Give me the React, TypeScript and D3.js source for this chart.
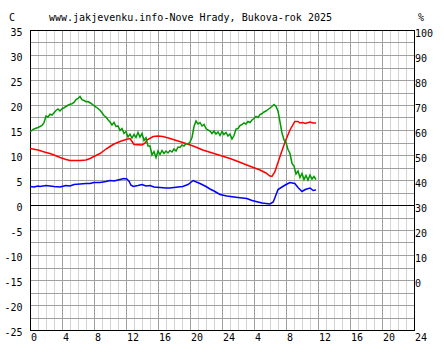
import React from "react";
import * as d3 from "d3";

const TITLE = "www.jakjevenku.info-Nove Hrady, Bukova-rok 2025";
const LEFT_TICKS = [35, 30, 25, 20, 15, 10, 5, 0, -5, -10, -15, -20, -25];
const RIGHT_TICKS = [100, 90, 80, 70, 60, 50, 40, 30, 20, 10, 0];
const X_TICK_LABELS = ["0", "4", "8", "12", "16", "20", "24", "4", "8", "12", "16", "20", "24"];

// Green series (humidity, %, right axis)
const greenHours = [0, 0.5, 1, 1.5, 1.75, 2, 2.25, 2.5, 2.75, 3, 3.25, 3.5, 3.75, 4, 4.25, 4.5, 4.75, 5, 5.25, 5.5, 5.75, 6, 6.25, 6.5, 6.75, 7, 7.25, 7.5, 7.75, 8, 8.25, 8.5, 8.75, 9, 9.25, 9.5, 9.75, 10, 10.25, 10.5, 10.75, 11, 11.25, 11.5, 11.75, 12, 12.25, 12.5, 12.75, 13, 13.25, 13.5, 13.75, 14, 14.25, 14.5, 14.75, 15, 15.25, 15.5, 15.75, 16, 16.25, 16.5, 16.75, 17, 17.25, 17.5, 17.75, 18, 18.25, 18.5, 18.75, 19, 19.25, 19.5, 19.75, 20, 20.25, 20.5, 20.75, 21, 21.25, 21.5, 21.75, 22, 22.25, 22.5, 22.75, 23, 23.25, 23.5, 23.75, 24, 24.25, 24.5, 24.75, 25, 25.25, 25.5, 25.75, 26, 26.25, 26.5, 26.75, 27, 27.25, 27.5, 27.75, 28, 28.25, 28.5, 28.75, 29, 29.25, 29.5, 29.75, 30, 30.25, 30.5, 30.75, 31, 31.25, 31.5, 31.75, 32, 32.25, 32.5, 32.75, 33, 33.25, 33.5, 33.75, 34, 34.25, 34.5, 34.75, 35, 35.25, 35.5, 35.75];
const greenValues = [59.3, 60.4, 61.0, 61.8, 62.9, 65.6, 65.2, 66.3, 66.0, 66.9, 67.8, 68.4, 67.6, 68.5, 68.9, 69.4, 69.9, 70.3, 70.5, 71.0, 72.2, 72.6, 73.4, 72.1, 71.8, 71.3, 71.4, 70.9, 70.4, 69.7, 69.2, 68.6, 67.9, 66.9, 65.8, 65.2, 64.1, 63.2, 62.0, 63.0, 61.4, 61.6, 59.8, 60.6, 58.6, 59.4, 57.2, 58.3, 56.8, 58.2, 57.0, 59.0, 57.2, 58.6, 55.8, 56.9, 53.6, 53.6, 50.0, 51.4, 49.0, 51.6, 50.2, 51.8, 50.6, 51.6, 50.8, 51.8, 51.2, 52.4, 51.6, 53.2, 53.0, 54.0, 53.6, 54.6, 54.4, 55.2, 57.0, 61.4, 63.6, 62.4, 63.0, 61.6, 62.2, 60.6, 60.0, 59.6, 58.6, 59.6, 58.4, 59.2, 57.8, 59.4, 58.2, 59.0, 57.6, 58.4, 56.4, 57.8, 60.4, 60.6, 61.8, 62.2, 62.8, 62.4, 63.4, 63.0, 64.0, 64.6, 65.4, 65.0, 66.2, 66.6, 67.2, 67.6, 68.2, 68.8, 69.4, 70.2, 69.4, 67.6, 63.2, 58.8, 56.0, 55.0, 52.2, 50.6, 46.6, 45.6, 42.4, 43.6, 41.0, 42.6, 40.2, 41.8, 40.0, 42.0, 40.4, 41.4, 40.2];

// Red series (°C, left axis)
const redHours = [0, 1, 2, 2.5, 3, 3.75, 4.5, 5, 6.25, 7, 7.5, 8, 8.75, 9.5, 10, 10.5, 11.25, 12, 12.5, 12.8, 13, 14, 14.4, 14.6, 15.4, 16, 16.6, 17.3, 17.9, 19.1, 20.4, 21.6, 23.4, 25, 26, 27.1, 28.75, 29.5, 30, 30.25, 30.6, 31.25, 31.9, 32.5, 33.1, 33.5, 33.75, 34.1, 34.4, 35, 35.4, 35.75];
const redValues = [11.3, 11.0, 10.5, 10.3, 10.0, 9.5, 9.1, 8.9, 8.9, 9.0, 9.3, 9.7, 10.3, 11.2, 11.7, 12.2, 12.7, 13.1, 13.3, 12.6, 12.1, 12.0, 12.4, 13.0, 13.7, 13.8, 13.7, 13.4, 13.1, 12.5, 11.8, 11.0, 10.1, 9.3, 8.7, 8.0, 7.0, 6.4, 5.8, 5.7, 6.6, 9.7, 12.7, 15.0, 16.7, 16.7, 16.4, 16.5, 16.3, 16.6, 16.4, 16.4];

// Blue series (°C, left axis)
const blueHours = [0, 0.5, 1, 1.25, 2, 2.5, 3, 3.75, 4.5, 5, 5.5, 6.25, 7, 7.5, 8, 8.75, 9.5, 10, 10.5, 11.25, 11.75, 12.1, 12.4, 12.6, 12.9, 13.5, 14, 14.5, 15, 15.5, 16.25, 17, 17.5, 18, 18.5, 19.1, 19.75, 20.4, 20.8, 21.25, 22, 22.5, 23, 23.75, 24.6, 25.5, 26.5, 27.1, 27.75, 28.5, 29, 29.5, 30, 30.4, 30.6, 31, 31.5, 31.9, 32.5, 33.1, 33.5, 34, 34.4, 35, 35.4, 35.75];
const blueValues = [3.7, 3.6, 3.8, 3.7, 3.9, 3.8, 3.7, 3.6, 3.9, 3.8, 4.1, 4.2, 4.3, 4.3, 4.5, 4.5, 4.7, 4.9, 4.8, 5.1, 5.3, 5.2, 4.7, 4.0, 3.7, 3.9, 4.1, 3.8, 3.9, 3.6, 3.5, 3.4, 3.4, 3.5, 3.6, 3.7, 4.1, 4.9, 4.6, 4.3, 3.7, 3.2, 2.8, 2.1, 1.8, 1.6, 1.4, 1.3, 0.9, 0.6, 0.4, 0.3, 0.2, 0.6, 1.4, 3.1, 3.6, 4.0, 4.5, 4.3, 3.5, 2.7, 3.1, 3.4, 2.9, 3.0];

const W = 444;
const H = 360;
const LEFT = 30;
const RIGHT = 414;
const TOP = 30;
const BOTTOM = 330;
const FONT = "'DejaVu Sans Mono', monospace";

export default function App() {
  const x = d3.scaleLinear().domain([0, 48]).range([LEFT, RIGHT]);
  const y = d3.scaleLinear().domain([-25, 35]).range([BOTTOM, TOP]);
  const yR = d3.scaleLinear().domain([0, 100]).range([y(-15), y(35)]);
  const crisp = (v: number) => Math.round(v) + 0.5;

  const hGrid = d3.range(-25, 35.01, 2.5);
  const vGrid = d3.range(0, 49, 1);

  const lineC = d3
    .line<[number, number]>()
    .x((d) => x(d[0]))
    .y((d) => y(d[1]));
  const lineP = d3
    .line<[number, number]>()
    .x((d) => x(d[0]))
    .y((d) => yR(d[1]));

  const zip = (a: number[], b: number[]) => a.map((h, i) => [h, b[i]] as [number, number]);

  const xl = crisp(LEFT) ;
  const xr = crisp(RIGHT);
  const yt = crisp(TOP);
  const yb = crisp(BOTTOM);

  return (
    <svg
      width={W}
      height={H}
      style={{ position: "absolute", left: 0, top: 0, background: "#fff" }}
      fontFamily={FONT}
      fontSize={10}
    >
      <rect x={0} y={0} width={W} height={H} fill="#fff" />
      {/* vertical grid */}
      {vGrid.map((h) => (
        <line
          key={"v" + h}
          x1={crisp(x(h))}
          x2={crisp(x(h))}
          y1={yt}
          y2={yb}
          stroke={h % 4 === 0 ? "#a0a0a0" : "#d4d4d4"}
          strokeWidth={1}
          shapeRendering="crispEdges"
        />
      ))}
      {/* horizontal grid */}
      {hGrid.map((c) => (
        <line
          key={"h" + c}
          x1={xl}
          x2={xr}
          y1={crisp(y(c))}
          y2={crisp(y(c))}
          stroke={c === 0 ? "#000" : "#a0a0a0"}
          strokeWidth={1}
          shapeRendering="crispEdges"
        />
      ))}
      {/* frame */}
      <rect
        x={xl}
        y={yt}
        width={xr - xl}
        height={yb - yt}
        fill="none"
        stroke="#000"
        strokeWidth={1}
        shapeRendering="crispEdges"
      />
      {/* data */}
      <path d={lineC(zip(redHours, redValues)) || ""} fill="none" stroke="#ff0000" strokeWidth={1.5} strokeLinejoin="miter" />
      <path d={lineC(zip(blueHours, blueValues)) || ""} fill="none" stroke="#0000ff" strokeWidth={1.5} />
      <path d={lineP(zip(greenHours, greenValues)) || ""} fill="none" stroke="#009900" strokeWidth={1.5} />

      {/* title */}
      <text x={49} y={21} fill="#000">{TITLE}</text>
      <text x={9} y={21} fill="#000">C</text>
      <text x={418} y={21} fill="#000">%</text>

      {/* left ticks */}
      {LEFT_TICKS.map((c) => (
        <text key={"l" + c} x={22.5} y={crisp(y(c)) + 5} textAnchor="end" fill="#000">
          {String(c)}
        </text>
      ))}
      {/* right ticks */}
      {RIGHT_TICKS.map((p) => (
        <text key={"r" + p} x={415} y={crisp(yR(p)) + 6} textAnchor="start" fill="#000">
          {String(p)}
        </text>
      ))}
      {/* bottom ticks */}
      {X_TICK_LABELS.map((t, i) => (
        <text key={"b" + i} x={x(i * 4) + 1} y={341} textAnchor="start" fill="#000">
          {t}
        </text>
      ))}
    </svg>
  );
}
